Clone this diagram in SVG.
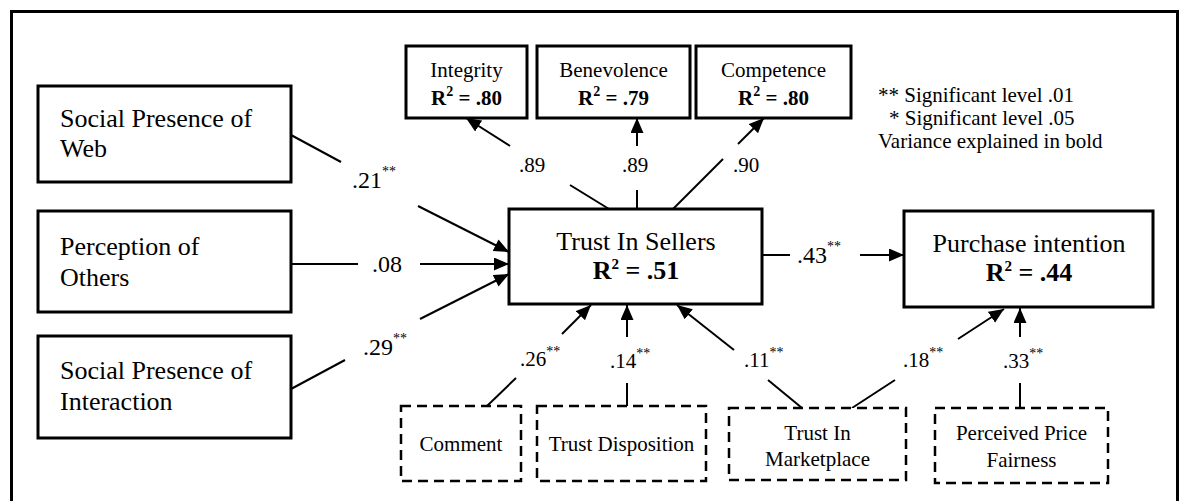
<svg xmlns="http://www.w3.org/2000/svg" width="1184" height="501" viewBox="0 0 1184 501" font-family="'Liberation Serif', 'Times New Roman', serif">
  <style>
    text { font-family: "Liberation Serif", "Times New Roman", serif; fill: #000; }
    .box { fill: #fff; stroke: #000; stroke-width: 3; }
    .dash { fill: #fff; stroke: #000; stroke-width: 2.5; stroke-dasharray: 10 6; }
    .edge { fill: none; stroke: #000; stroke-width: 2; }
    .arr { marker-end: url(#head); }
    .big { font-size: 26px; }
    .mid { font-size: 21px; }
    .r2 { font-weight: bold; }
    .lab { font-size: 24px; }
    .labs { font-size: 21px; }
    .sup { font-size: 14px; }
  </style>
  <defs>
    <marker id="head" markerUnits="userSpaceOnUse" markerWidth="16" markerHeight="14" refX="15" refY="6.5" orient="auto">
      <path d="M0,0 L15,6.5 L0,13 z" fill="#000"/>
    </marker>
  </defs>

  <rect width="1184" height="501" fill="#fff"/>
  <!-- outer frame (open at the bottom) -->
  <path d="M11.5,520 V11.5 H1177.5 V520" fill="none" stroke="#000" stroke-width="3"/>

  <!-- connectors -->
  <g id="connectors">
    <!-- inputs to Trust In Sellers -->
    <line class="edge" x1="291" y1="135" x2="341" y2="162"/>
    <line class="edge arr" x1="418" y1="206" x2="509" y2="252"/>
    <line class="edge" x1="291" y1="264" x2="358" y2="264"/>
    <line class="edge arr" x1="420" y1="264" x2="509" y2="264"/>
    <line class="edge" x1="291" y1="389" x2="345" y2="360"/>
    <line class="edge arr" x1="420" y1="319" x2="509" y2="274"/>

    <!-- Trust In Sellers to its dimensions -->
    <line class="edge" x1="609" y1="209" x2="570" y2="185"/>
    <line class="edge arr" x1="510" y1="146" x2="466" y2="118"/>
    <line class="edge" x1="637" y1="209" x2="637" y2="190"/>
    <line class="edge arr" x1="637" y1="146" x2="637" y2="118"/>
    <line class="edge" x1="673" y1="209" x2="723" y2="159"/>
    <line class="edge arr" x1="738" y1="144" x2="764" y2="118"/>

    <!-- Trust In Sellers to Purchase intention -->
    <line class="edge" x1="762" y1="255" x2="790" y2="255"/>
    <line class="edge arr" x1="860" y1="255" x2="904" y2="255"/>

    <!-- controls -->
    <line class="edge" x1="487" y1="406" x2="516" y2="378"/>
    <line class="edge arr" x1="562" y1="334" x2="591" y2="305"/>
    <line class="edge" x1="627" y1="406" x2="627" y2="383"/>
    <line class="edge arr" x1="627" y1="337" x2="627" y2="305"/>
    <line class="edge" x1="802" y1="408" x2="768" y2="380"/>
    <line class="edge arr" x1="734" y1="350" x2="677" y2="305"/>
    <line class="edge" x1="852" y1="408" x2="895" y2="380"/>
    <line class="edge arr" x1="958" y1="339" x2="1004" y2="309"/>
    <line class="edge" x1="1020" y1="408" x2="1020" y2="383"/>
    <line class="edge arr" x1="1020" y1="337" x2="1020" y2="308"/>

    <!-- path coefficients -->
    <text class="lab" x="352" y="188">.21<tspan class="sup" dy="-12">**</tspan></text>
    <text class="lab" x="372" y="272">.08</text>
    <text class="lab" x="363" y="355">.29<tspan class="sup" dy="-12">**</tspan></text>
    <text class="labs" x="519" y="172">.89</text>
    <text class="labs" x="622" y="172">.89</text>
    <text class="labs" x="733" y="172">.90</text>
    <text class="lab" x="797" y="263">.43<tspan class="sup" dy="-12">**</tspan></text>
    <text class="labs" x="520" y="366">.26<tspan class="sup" dy="-10">**</tspan></text>
    <text class="labs" x="610" y="368">.14<tspan class="sup" dy="-10">**</tspan></text>
    <text class="labs" x="744" y="367">.11<tspan class="sup" dy="-10">**</tspan></text>
    <text class="labs" x="903" y="367">.18<tspan class="sup" dy="-10">**</tspan></text>
    <text class="labs" x="1003" y="368">.33<tspan class="sup" dy="-10">**</tspan></text>
  </g>

  <!-- antecedents -->
  <g id="social-presence-web">
    <rect class="box" x="38" y="86" width="253" height="96"/>
    <text class="big" x="60" y="127">Social Presence of</text>
    <text class="big" x="60" y="157">Web</text>
  </g>
  <g id="perception-of-others">
    <rect class="box" x="38" y="211" width="253" height="101"/>
    <text class="big" x="60" y="255">Perception of</text>
    <text class="big" x="60" y="286">Others</text>
  </g>
  <g id="social-presence-interaction">
    <rect class="box" x="38" y="336" width="253" height="102"/>
    <text class="big" x="60" y="379">Social Presence of</text>
    <text class="big" x="60" y="410">Interaction</text>
  </g>

  <!-- trust dimensions -->
  <g id="integrity">
    <rect class="box" x="406" y="46" width="121" height="72"/>
    <text class="mid" x="466.5" y="77" text-anchor="middle">Integrity</text>
    <text class="mid r2" x="466.5" y="105" text-anchor="middle">R<tspan class="sup" dy="-9">2</tspan><tspan dy="9"> = .80</tspan></text>
  </g>
  <g id="benevolence">
    <rect class="box" x="537" y="46" width="153" height="72"/>
    <text class="mid" x="613.5" y="77" text-anchor="middle">Benevolence</text>
    <text class="mid r2" x="613.5" y="105" text-anchor="middle">R<tspan class="sup" dy="-9">2</tspan><tspan dy="9"> = .79</tspan></text>
  </g>
  <g id="competence">
    <rect class="box" x="696" y="46" width="155" height="72"/>
    <text class="mid" x="773.5" y="77" text-anchor="middle">Competence</text>
    <text class="mid r2" x="773.5" y="105" text-anchor="middle">R<tspan class="sup" dy="-9">2</tspan><tspan dy="9"> = .80</tspan></text>
  </g>

  <!-- legend -->
  <g id="legend">
    <text class="mid" x="878" y="102">** Significant level .01</text>
    <text class="mid" x="889" y="125">* Significant level .05</text>
    <text class="mid" x="878" y="148">Variance explained in bold</text>
  </g>

  <!-- core constructs -->
  <g id="trust-in-sellers">
    <rect class="box" x="509" y="209" width="253" height="95"/>
    <text class="big" x="636" y="250" text-anchor="middle">Trust In Sellers</text>
    <text class="big r2" x="636" y="279" text-anchor="middle">R<tspan font-size="15" dy="-10">2</tspan><tspan dy="10"> = .51</tspan></text>
  </g>
  <g id="purchase-intention">
    <rect class="box" x="904" y="211" width="249" height="96"/>
    <text class="big" x="1029" y="252" text-anchor="middle">Purchase intention</text>
    <text class="big r2" x="1029" y="281" text-anchor="middle">R<tspan font-size="15" dy="-10">2</tspan><tspan dy="10"> = .44</tspan></text>
  </g>

  <!-- control variables -->
  <g id="comment">
    <rect class="dash" x="401" y="406" width="120" height="75"/>
    <text class="mid" x="461" y="451" text-anchor="middle">Comment</text>
  </g>
  <g id="trust-disposition">
    <rect class="dash" x="537" y="406" width="169" height="75"/>
    <text class="mid" x="621.5" y="451" text-anchor="middle">Trust Disposition</text>
  </g>
  <g id="trust-in-marketplace">
    <rect class="dash" x="729" y="408" width="177" height="72"/>
    <text class="mid" x="817.5" y="440" text-anchor="middle">Trust In</text>
    <text class="mid" x="817.5" y="466" text-anchor="middle">Marketplace</text>
  </g>
  <g id="perceived-price-fairness">
    <rect class="dash" x="935" y="408" width="173" height="75"/>
    <text class="mid" x="1021.5" y="440" text-anchor="middle">Perceived Price</text>
    <text class="mid" x="1021.5" y="467" text-anchor="middle">Fairness</text>
  </g>
</svg>
